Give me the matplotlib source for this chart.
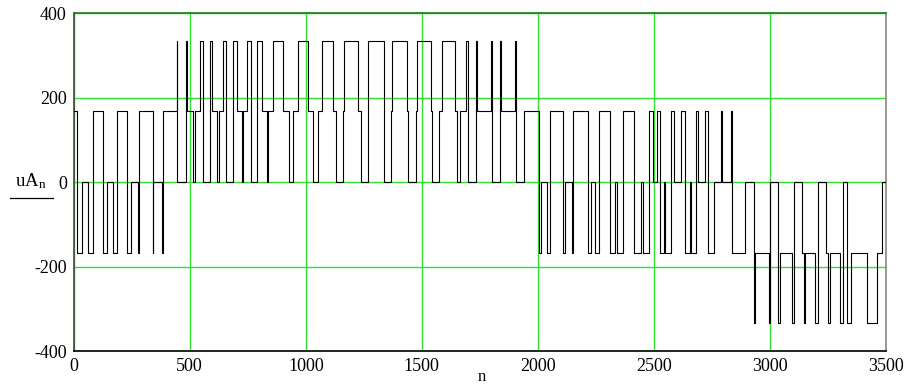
import matplotlib.pyplot as plt
from matplotlib.lines import Line2D

# switching instants (sample index n) and the level held from that instant on
n_switch = [0, 16, 34, 63, 82, 125, 142, 168, 185, 231, 247, 278, 281, 340, 343,
            379, 383, 444, 447, 484, 490, 516, 523, 544, 556, 587, 597, 619, 628,
            645, 655, 688, 705, 724, 731, 748, 763, 791, 810, 832, 836, 860, 903,
            929, 944, 965, 1011, 1033, 1054, 1069, 1119, 1131, 1159, 1165, 1227,
            1237, 1266, 1270, 1335, 1339, 1366, 1370, 1435, 1442, 1475, 1481, 1539,
            1543, 1572, 1586, 1641, 1651, 1665, 1691, 1701, 1734, 1737, 1799, 1801,
            1837, 1840, 1903, 1906, 1941, 2007, 2013, 2039, 2053, 2110, 2118, 2146,
            2153, 2215, 2228, 2247, 2264, 2311, 2333, 2343, 2369, 2415, 2444, 2452,
            2481, 2498, 2513, 2526, 2543, 2547, 2573, 2587, 2618, 2632, 2657, 2659,
            2682, 2688, 2721, 2731, 2757, 2789, 2793, 2832, 2836, 2893, 2932, 2936,
            2998, 3001, 3033, 3044, 3094, 3102, 3138, 3145, 3152, 3195, 3209, 3242,
            3252, 3257, 3303, 3314, 3334, 3350, 3420, 3461, 3482]
uA = [167, -167, 0, -167, 167, -167, 0, -167, 167, -167, 0, -167, 167, -167, 0,
      -167, 167, 333, 0, 333, 167, 0, 167, 333, 0, 333, 167, 0, 167,
      333, 0, 333, 167, 0, 167, 333, 0, 333, 167, 0, 167, 333, 167,
      0, 167, 333, 167, 0, 167, 333, 167, 0, 167, 333, 167,
      0, 167, 333, 167, 0, 167, 333, 167, 0, 167, 333, 167,
      0, 167, 333, 167, 0, 167, 333, 0, 333, 167, 333, 0,
      333, 167, 333, 0, 167, -167, 0, -167, 167, -167, 0, -167,
      167, -167, 0, -167, 167, -167, 0, -167, 167, -167, 0, -167,
      167, 0, 167, -167, 0, -167, 167, 0, 167, -167, 0, -167,
      167, 0, 167, -167, 0, 167, 0, 167, -167, 0, -333, -167,
      -333, 0, -333, -167, -333, 0, -167, -333, -167, -333, 0, -167,
      -333, -167, -333, 0, -333, -167, -333, -167, 0]
n_end = 3500

x_ticks = [0, 500, 1000, 1500, 2000, 2500, 3000, 3500]
y_ticks = [-400, -200, 0, 200, 400]

plt.rcParams['font.family'] = ['Liberation Serif', 'DejaVu Serif']
plt.rcParams['mathtext.fontset'] = 'custom'
plt.rcParams['mathtext.rm'] = 'Liberation Serif'
plt.rcParams['axes.unicode_minus'] = False

fig = plt.figure(figsize=(9.1, 3.87), dpi=100)
ax = fig.add_axes([0.081, 0.093, 0.8926, 0.8734])

ax.step(n_switch + [n_end], uA + [uA[-1]], where='post', color='black', lw=0.8, zorder=3)

ax.set_xlim(0, 3500)
ax.set_ylim(-400, 400)
ax.set_xticks(x_ticks)
ax.set_yticks(y_ticks)
ax.grid(True, color='#33dd33', lw=1.0, zorder=1)
ax.set_axisbelow(True)
ax.tick_params(length=0, labelsize=13)
ax.tick_params(axis='x', pad=5)
ax.tick_params(axis='y', pad=5)

ax.spines['left'].set_color('#444444')
ax.spines['bottom'].set_color('black')
ax.spines['right'].set_color('#888888')
ax.spines['top'].set_color('#1a7a1a')
for s in ax.spines.values():
    s.set_linewidth(1.2)

fig.text(0.034, 0.532, r'$\mathregular{uA_n}$', fontsize=13.5, ha='center', va='center')
fig.add_artist(Line2D([0.011, 0.058], [0.488, 0.488], color='black', lw=0.9,
                      transform=fig.transFigure))
fig.text(0.529, 0.004, 'n', fontsize=12, ha='center', va='bottom')

fig.savefig('out.png', dpi=100)
